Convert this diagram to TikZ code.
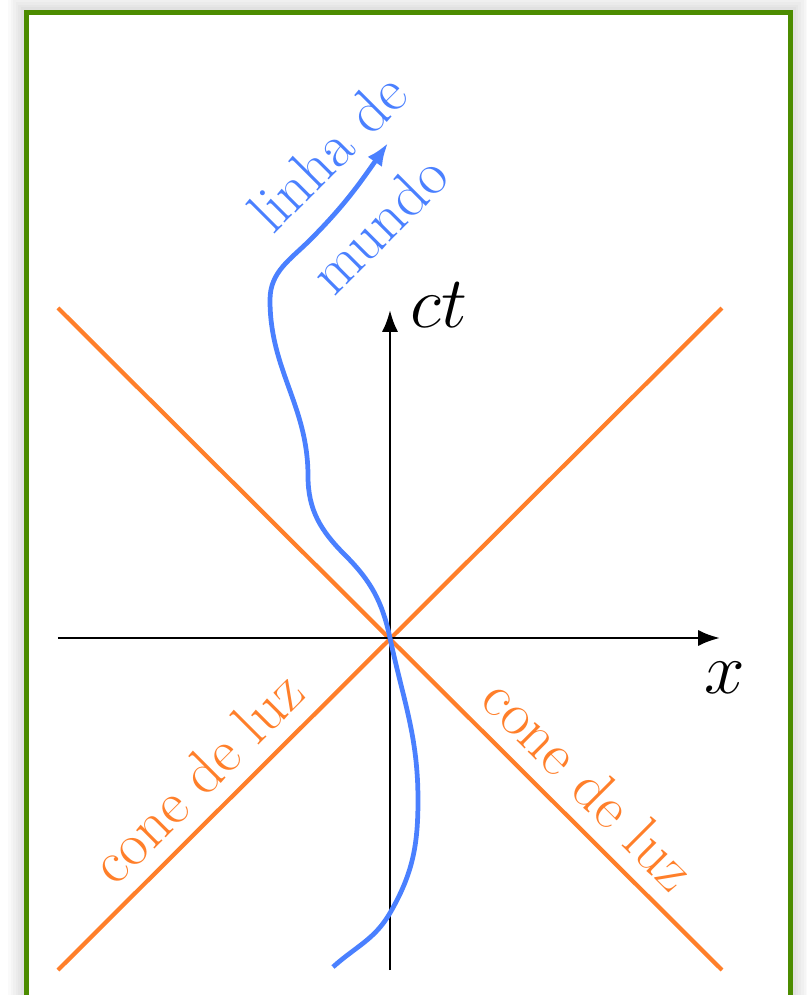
\documentclass[tikz,border=0pt]{standalone}
\usepackage{amsmath}
\usepackage{tikz}
\usetikzlibrary{arrows.meta}
\definecolor{lcor}{RGB}{255,127,42}
\definecolor{wlbl}{RGB}{74,128,255}
\definecolor{frgr}{RGB}{76,140,0}
\tikzset{
  frm/.style={draw=frgr,line width=1.55pt},
  shd/.style={draw=black,opacity=.018},
  ax/.style={draw=black,line width=.8pt,-{Latex[length=6.2pt,width=4.6pt]}},
  lc/.style={draw=lcor,line width=1.2pt},
  wl/.style={draw=wlbl,line width=1.35pt,-{Latex[length=6.5pt,width=5pt]}},
  axl/.style={font=\fontsize{22}{26}\selectfont},
  lcl/.style={text=lcor,font=\LARGE,inner sep=4.5pt},
  wll/.style={text=wlbl,font=\LARGE,align=left,rotate=45},
}

\begin{document}
\begin{tikzpicture}
\useasboundingbox (-3.90,-3.57) rectangle (4.17,6.38);
\clip (-3.90,-3.57) rectangle (4.17,6.38);
% frame with a soft shadow round it
\foreach \w in {1,...,6}
  \draw[shd,line width=1.55pt+\w*1.5pt] (-3.635,-3.8) rectangle (4.005,6.255);
\draw[frm,fill=white] (-3.635,-3.8) rectangle (4.005,6.255);

\coordinate (o) at (0,0);
\coordinate (xl) at (-3.32,0); \coordinate (xr) at (3.30,0);
\coordinate (tb) at (0,-3.32); \coordinate (tt) at (0,3.28);
\coordinate (ul) at (-3.32,3.30); \coordinate (ur) at (3.32,3.30);
\coordinate (dl) at (-3.32,-3.32); \coordinate (dr) at (3.32,-3.32);

% light cone
\draw[lc] (ul) -- (dr);
\draw[lc] (ur) -- (dl);
\path (dl) -- (o) node[lcl,sloped,above,pos=.5] (cl) {cone de luz};
\path (o) -- (dr) node[lcl,sloped,above,pos=.52] (cr) {cone de luz};

% axes
\draw[ax] (xl) -- (xr);
\draw[ax] (tb) -- (tt);
\node[axl,anchor=west,xshift=.8mm,yshift=.5mm] (ct) at (tt) {$ct$};
\node[axl,below,xshift=.5mm,yshift=-1.2mm] (xx) at (xr) {$x$};

% world line
\draw[wl] (-0.57,-3.29) to[out=42,in=-120] (0,-2.75)
  to[out=60,in=-90] (0.28,-1.62) to[out=90,in=-78] (o)
  to[out=102,in=-45] (-0.45,0.83) to[out=135,in=-90] (-0.82,1.62)
  to[out=90,in=-90] (-1.20,3.38)
  to[out=90,in=-135] (-0.80,3.98) to[out=45,in=-125] (-0.02,4.95);
\node[wll] (wt) at (-0.32,4.55) {linha de\\[1mm] mundo};
\end{tikzpicture}
\end{document}
